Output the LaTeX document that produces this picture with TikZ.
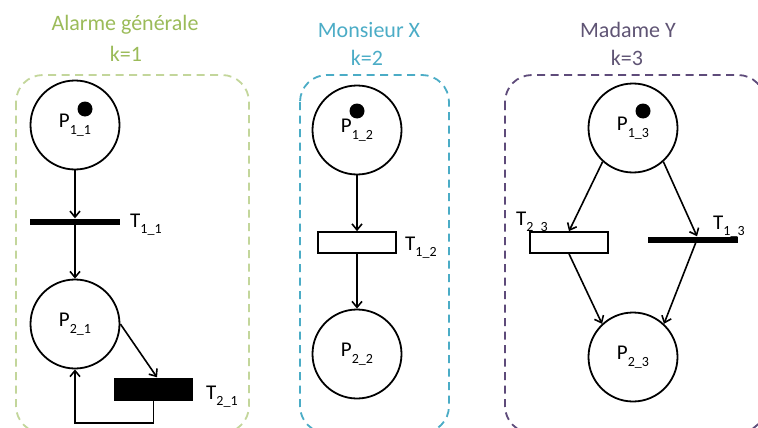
\documentclass[tikz,border=0pt]{standalone}
\usepackage{fontspec}
\setmainfont{Carlito}
\usetikzlibrary{arrows.meta,calc}
\definecolor{grnT}{HTML}{9BBB59}
\definecolor{grnB}{HTML}{C3D69B}
\definecolor{tealT}{HTML}{4BACC6}
\definecolor{tealB}{HTML}{4BACC6}
\definecolor{purT}{HTML}{5F5474}
\definecolor{purB}{HTML}{5E4B7A}
\newcommand{\sbx}[1]{\raisebox{-0.33em}{\fontsize{14}{14}\selectfont #1}}
\begin{document}
\begin{tikzpicture}[x=1pt,y=-1pt,
  place/.style={circle,draw,line width=1.8pt,minimum size=89pt,inner sep=0pt,font=\fontsize{21}{21}\selectfont},
  token/.style={circle,fill=black,minimum size=15pt,inner sep=0pt},
  bar/.style={fill=black,minimum width=90pt,minimum height=6pt,inner sep=0pt},
  openbox/.style={draw,line width=1.7pt,fill=white,minimum width=78pt,minimum height=21pt,inner sep=0pt},
  fullbox/.style={fill=black,minimum width=79pt,minimum height=23pt,inner sep=0pt},
  lab/.style={font=\fontsize{21}{21}\selectfont,inner sep=0pt,anchor=base west},
  ttl/.style={font=\fontsize{22}{22}\selectfont,inner sep=0pt,anchor=base},
  frame/.style={line width=1.8pt,dash pattern=on 8pt off 5.5pt,rounded corners=27pt},
  arr/.style={line width=1.6pt,-{Straight Barb[length=6pt,width=10pt]}},
  ln/.style={line width=1.6pt}]
\useasboundingbox (0,0) rectangle (758,428);
\clip (0,0) rectangle (758,428);
% frames
\draw[frame,draw=grnB] (16,75) rectangle (249,433);
\draw[frame,draw=tealB] (300,75) rectangle (449,433);
\draw[frame,draw=purB] (505,75) rectangle (765,433);
% titles
\node[ttl,text=grnT] (t1a) at (125,31) {Alarme générale};
\node[ttl,text=grnT] (t1b) at (126,61.5) {k=1};
\node[ttl,text=tealT] (t2a) at (369,37.5) {Monsieur X};
\node[ttl,text=tealT] (t2b) at (367,65.5) {k=2};
\node[ttl,text=purT] (t3a) at (628,37.5) {Madame Y};
\node[ttl,text=purT] (t3b) at (627,65.5) {k=3};
% panel 1
\node[place] (P11) at (75,125) {P\sbx{1\_1}};
\node[token] (k11) at (85,109) {};
\node[bar] (T11) at (75,221.5) {};
\node[lab] (L11) at (130,227) {T\sbx{1\_1}};
\node[place] (P21) at (75,324) {P\sbx{2\_1}};
\node[fullbox] (T21) at (153.5,389) {};
\node[lab] (L21) at (206,399) {T\sbx{2\_1}};
\draw[arr] (P11.south) -- (T11.north);
\draw[arr] (T11.center) -- (P21.north);
\draw[arr] (P21.east) -- ($(T21.north)+(3.5,0)$);
\draw[arr] (T21.south) -- ++(0,22) -| (P21.south);
% panel 2
\node[place] (P12) at (357,130) {P\sbx{1\_2}};
\node[token] (k12) at (357,111) {};
\node[openbox] (T12) at (357,242.5) {};
\node[lab] (L12) at (405,250) {T\sbx{1\_2}};
\node[place] (P22) at (357,354) {P\sbx{2\_2}};
\draw[arr] (P12.south) -- (T12.north);
\draw[arr] (T12.south) -- (P22.north);
% panel 3
\node[place] (P13) at (633,128) {P\sbx{1\_3}};
\node[token] (k13) at (643,111) {};
\node[openbox] (T23) at (569,242.5) {};
\node[lab] (L23) at (516,225) {T\sbx{2\_3}};
\node[bar] (T13) at (693,239.5) {};
\node[lab] (L13) at (713,229) {T\sbx{1\_3}};
\node[place] (P23) at (633,357) {P\sbx{2\_3}};
\draw[arr] (P13.228) -- (T23.north);
\draw[arr] (P13.-48) -- ($(T13.north)+(4,0)$);
\draw[arr] (T23.south) -- (P23.133);
\draw[arr] ($(T13.center)+(4,0)$) -- (P23.47);
\end{tikzpicture}
\end{document}
